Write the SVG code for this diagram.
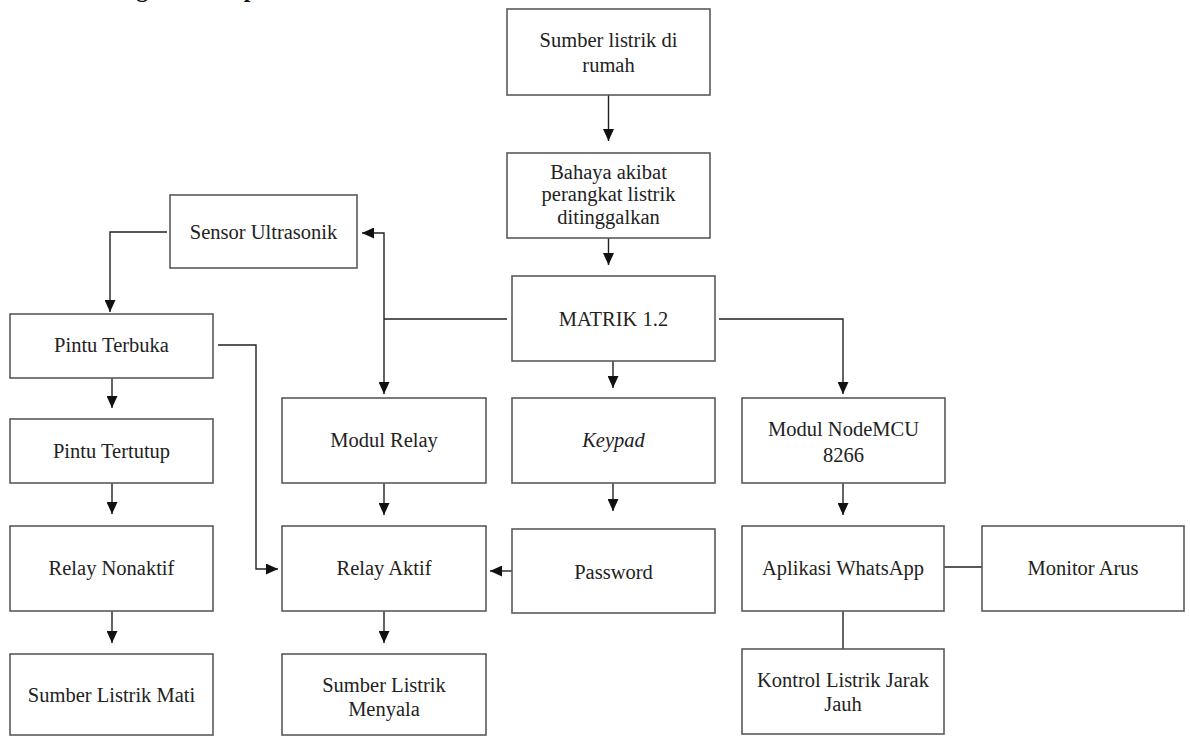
<svg xmlns="http://www.w3.org/2000/svg" width="1190" height="736" viewBox="0 0 1190 736">
<style>
  .box{fill:#fff;stroke:#5a5a5a;stroke-width:1.6}
  .t{font-family:"Liberation Serif","Times New Roman",serif;font-size:20.5px;fill:#222;text-anchor:middle;dominant-baseline:central}
  .c{fill:none;stroke:#222;stroke-width:1.4}
  .h{font-family:"Liberation Serif","Times New Roman",serif;font-size:24px;font-weight:bold;fill:#111}
</style>
<defs>
  <marker id="ah" markerUnits="userSpaceOnUse" markerWidth="12" markerHeight="11" refX="12" refY="5.5" orient="auto">
    <path d="M0,0 L12,5.5 L0,11 z" fill="#111"/>
  </marker>
</defs>
<rect width="1190" height="736" fill="#fff"/>
<text class="h" x="71" y="-3.5">Kerangka Konsep</text>

<g id="connectors">
  <path class="c" d="M608.5 95 V141" marker-end="url(#ah)"/>
  <path class="c" d="M608.5 238 V265" marker-end="url(#ah)"/>
  <path class="c" d="M613 361 V388" marker-end="url(#ah)"/>
  <path class="c" d="M507 319 H384"/>
  <path class="c" d="M384 319 V233 H362" marker-end="url(#ah)"/>
  <path class="c" d="M384 319 V394" marker-end="url(#ah)"/>
  <path class="c" d="M719 319 H843 V394" marker-end="url(#ah)"/>
  <path class="c" d="M167 232 H110 V312" marker-end="url(#ah)"/>
  <path class="c" d="M112 378 V408" marker-end="url(#ah)"/>
  <path class="c" d="M112 483 V514" marker-end="url(#ah)"/>
  <path class="c" d="M112 611 V643" marker-end="url(#ah)"/>
  <path class="c" d="M218 345 H256 V569 H278" marker-end="url(#ah)"/>
  <path class="c" d="M384 483 V515" marker-end="url(#ah)"/>
  <path class="c" d="M384 611 V643" marker-end="url(#ah)"/>
  <path class="c" d="M613 483 V511" marker-end="url(#ah)"/>
  <path class="c" d="M512 571 H490" marker-end="url(#ah)"/>
  <path class="c" d="M843 483 V515" marker-end="url(#ah)"/>
  <path class="c" d="M944 567 H982"/>
  <path class="c" d="M843 611 V649"/>
</g>

<g id="n-sumber-rumah">
  <rect class="box" x="507" y="9" width="203" height="86"/>
  <text class="t" x="608.5" y="40">Sumber listrik di</text>
  <text class="t" x="608.5" y="65">rumah</text>
</g>
<g id="n-bahaya">
  <rect class="box" x="507" y="153" width="203" height="85"/>
  <text class="t" x="608.5" y="172">Bahaya akibat</text>
  <text class="t" x="608.5" y="194">perangkat listrik</text>
  <text class="t" x="608.5" y="217">ditinggalkan</text>
</g>
<g id="n-matrik">
  <rect class="box" x="512" y="276" width="203" height="85"/>
  <text class="t" x="613.5" y="319">MATRIK 1.2</text>
</g>
<g id="n-sensor">
  <rect class="box" x="170" y="195" width="187" height="73"/>
  <text class="t" x="263.5" y="232">Sensor Ultrasonik</text>
</g>
<g id="n-pintu-terbuka">
  <rect class="box" x="10" y="314" width="203" height="64"/>
  <text class="t" x="111.5" y="345">Pintu Terbuka</text>
</g>
<g id="n-pintu-tertutup">
  <rect class="box" x="10" y="419" width="203" height="64"/>
  <text class="t" x="111.5" y="451">Pintu Tertutup</text>
</g>
<g id="n-relay-nonaktif">
  <rect class="box" x="10" y="526" width="203" height="85"/>
  <text class="t" x="111.5" y="568">Relay Nonaktif</text>
</g>
<g id="n-sumber-mati">
  <rect class="box" x="10" y="654" width="203" height="81"/>
  <text class="t" x="111.5" y="695">Sumber Listrik Mati</text>
</g>
<g id="n-modul-relay">
  <rect class="box" x="282" y="398" width="204" height="85"/>
  <text class="t" x="384" y="440">Modul Relay</text>
</g>
<g id="n-relay-aktif">
  <rect class="box" x="282" y="526" width="204" height="85"/>
  <text class="t" x="384" y="568">Relay Aktif</text>
</g>
<g id="n-sumber-menyala">
  <rect class="box" x="282" y="654" width="204" height="81"/>
  <text class="t" x="384" y="685">Sumber Listrik</text>
  <text class="t" x="384" y="709">Menyala</text>
</g>
<g id="n-keypad">
  <rect class="box" x="512" y="398" width="203" height="85"/>
  <text class="t" x="613.5" y="440" font-style="italic">Keypad</text>
</g>
<g id="n-password">
  <rect class="box" x="512" y="529" width="203" height="84"/>
  <text class="t" x="613.5" y="572">Password</text>
</g>
<g id="n-nodemcu">
  <rect class="box" x="742" y="398" width="203" height="85"/>
  <text class="t" x="843.5" y="429">Modul NodeMCU</text>
  <text class="t" x="843.5" y="455">8266</text>
</g>
<g id="n-whatsapp">
  <rect class="box" x="742" y="526" width="202" height="85"/>
  <text class="t" x="843" y="568">Aplikasi WhatsApp</text>
</g>
<g id="n-monitor">
  <rect class="box" x="982" y="526" width="202" height="85"/>
  <text class="t" x="1083" y="568">Monitor Arus</text>
</g>
<g id="n-kontrol">
  <rect class="box" x="742" y="649" width="202" height="85"/>
  <text class="t" x="843" y="680">Kontrol Listrik Jarak</text>
  <text class="t" x="843" y="704">Jauh</text>
</g>
</svg>
